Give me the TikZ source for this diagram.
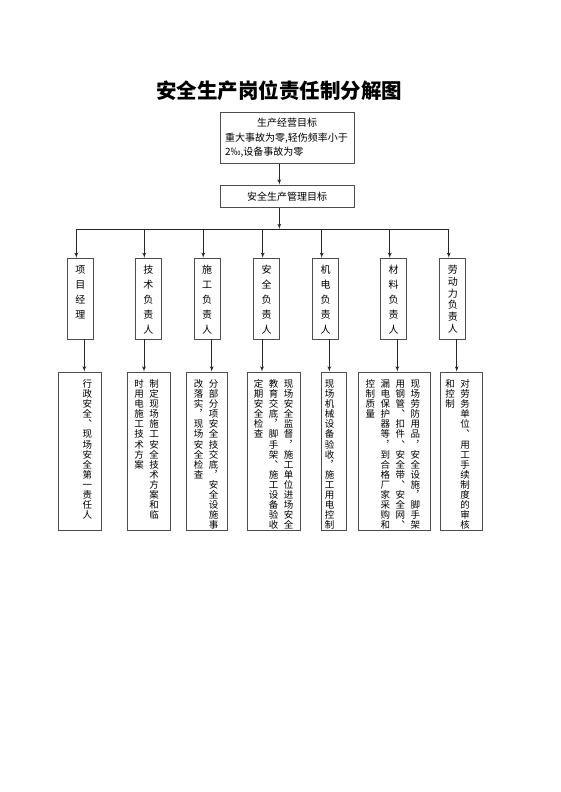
\documentclass[tikz,border=0pt]{standalone}
\usepackage{fontspec}
\setmainfont{Noto Sans CJK SC}
\newfontfamily\vertfont[RawFeature=+vert]{Noto Sans CJK SC}
\usetikzlibrary{shapes,arrows,positioning,calc}
\makeatletter
\newcommand\vcol[2][10.1pt]{\vtop{\baselineskip=#1\lineskiplimit=-\maxdimen\@tfor\vch:=#2\do{\hbox to 10pt{\hss\vch\hss}}}}
\makeatother
\newcommand\vgap{\hskip5pt}
\tikzset{
title/.style = {font=\fontsize{20.5pt}{24pt}\selectfont\bfseries},
block/.style = {draw=black!70, rectangle, line width=0.8pt, minimum width=134pt, font=\fontsize{10pt}{14.3pt}\selectfont},
duty/.style = {draw=black!70, rectangle, line width=0.8pt, minimum width=26pt, inner xsep=0pt, inner ysep=0pt, text height=15.5pt, text depth=65.2pt, font=\fontsize{10pt}{12pt}\vertfont},
task/.style = {draw=black!70, rectangle, line width=0.8pt, minimum height=158pt},
txt/.style = {inner sep=0pt, anchor=base east, font=\fontsize{9.5pt}{10pt}\vertfont},
line/.style = {line width=0.8pt, draw=black!85}
}
\begin{document}
\begin{tikzpicture}[x=1pt, y=1pt, >=latex']
\useasboundingbox (0,0) rectangle (560,-792);
\node[title] (title) at (279,-90.5) {安全生产岗位责任制分解图};
\node[block, text width=124pt, align=left, minimum height=51pt] (goal) at (287,-138) {\makebox[124pt]{生产经营目标}\\重大事故为零,轻伤频率小于\\2‰,设备事故为零};
\node[block, minimum height=22.3pt] (mgmt) at (287,-196.2) {安全生产管理目标};
\coordinate (trunk) at (279.3,-229);
\node[duty] (t1) at (80.3,-298.65) {\vcol[15pt]{项目经理}};
\node[duty, right of=t1, node distance=68pt] (t2) {\vcol[15pt]{技术负责人}};
\node[duty, right of=t2, node distance=58.9pt] (t3) {\vcol[15pt]{施工负责人}};
\node[duty, right of=t3, node distance=59.5pt] (t4) {\vcol[15pt]{安全负责人}};
\node[duty, right of=t4, node distance=59pt] (t5) {\vcol[15pt]{机电负责人}};
\node[duty, right of=t5, node distance=68pt] (t6) {\vcol[15pt]{材料负责人}};
\node[duty, right of=t6, node distance=59.1pt] (t7) {\vcol[11.7pt]{劳动力负责人}};
\node[task, minimum width=43pt] (b1) at (80.3,-451) {};
\node[task, minimum width=43pt] (b2) at (148.5,-451) {};
\node[task, minimum width=41.7pt] (b3) at (206.85,-451) {};
\node[task, minimum width=53pt] (b4) at (273.5,-451) {};
\node[task, minimum width=25pt] (b5) at (334.2,-451) {};
\node[task, minimum width=71.7pt] (b6) at (394.6,-451) {};
\node[task, minimum width=42pt] (b7) at (461,-451) {};
\node[txt] (b1txt) at ([xshift=-9.7pt,yshift=-15.8pt]b1.north east) {\vcol{行政安全、现场安全第一责任人}};
\node[txt] (b2txt) at ([xshift=-11pt,yshift=-15.8pt]b2.north east) {\vcol{时用电施工技术方案}\vgap\vcol{制定现场施工安全技术方案和临}};
\node[txt] (b3txt) at ([xshift=-9.4pt,yshift=-15.8pt]b3.north east) {\vcol{改落实，现场安全检查}\vgap\vcol{分部分项安全技交底，安全设施事}};
\node[txt] (b4txt) at ([xshift=-6.7pt,yshift=-15.8pt]b4.north east) {\vcol{定期安全检查}\vgap\vcol{教育交底，脚手架、施工设备验收}\vgap\vcol{现场安全监督，施工单位进场安全}};
\node[txt] (b5txt) at ([xshift=-12.4pt,yshift=-15.8pt]b5.north east) {\vcol{现场机械设备验收，施工用电控制}};
\node[txt] (b6txt) at ([xshift=-10.4pt,yshift=-15.8pt]b6.north east) {\vcol{控制质量}\vgap\vcol{漏电保护器等，到合格厂家采购和}\vgap\vcol{用钢管、扣件、安全带、安全网、}\vgap\vcol{现场劳防用品，安全设施，脚手架}};
\node[txt] (b7txt) at ([xshift=-12pt,yshift=-15.8pt]b7.north east) {\vcol{和控制}\vgap\vcol{对劳务单位、用工手续制度的审核}};
\draw[line,->] (goal.south -| trunk) -- (mgmt.north -| trunk);
\draw[line,->] (mgmt.south -| trunk) -- (trunk);
\draw[line] ([xshift=-4pt]t1.north |- trunk) -- ([xshift=-4pt]t7.north |- trunk);
\draw[line,->] ([xshift=-4pt]t1.north |- trunk) -- ([xshift=-4pt]t1.north);
\draw[line,->] ([xshift=-4pt]t2.north |- trunk) -- ([xshift=-4pt]t2.north);
\draw[line,->] ([xshift=-4pt]t3.north |- trunk) -- ([xshift=-4pt]t3.north);
\draw[line,->] ([xshift=-4pt]t4.north |- trunk) -- ([xshift=-4pt]t4.north);
\draw[line,->] ([xshift=-4pt]t5.north |- trunk) -- ([xshift=-4pt]t5.north);
\draw[line,->] ([xshift=-4pt]t6.north |- trunk) -- ([xshift=-4pt]t6.north);
\draw[line,->] ([xshift=-4pt]t7.north |- trunk) -- ([xshift=-4pt]t7.north);
\draw[line,->] ([xshift=4pt]t1.south) -- ([xshift=4pt]t1.south |- b1.north);
\draw[line,->] ([xshift=-4.3pt]t2.south) -- ([xshift=-4.3pt]t2.south |- b2.north);
\draw[line,->] ([xshift=4.5pt]t3.south) -- ([xshift=4.5pt]t3.south |- b3.north);
\draw[line,->] ([xshift=-4.7pt]t4.south) -- ([xshift=-4.7pt]t4.south |- b4.north);
\draw[line,->] ([xshift=3.6pt]t5.south) -- ([xshift=3.6pt]t5.south |- b5.north);
\draw[line,->] ([xshift=3.6pt]t6.south) -- ([xshift=3.6pt]t6.south |- b6.north);
\draw[line,->] ([xshift=3.9pt]t7.south) -- ([xshift=3.9pt]t7.south |- b7.north);
\end{tikzpicture}
\end{document}
